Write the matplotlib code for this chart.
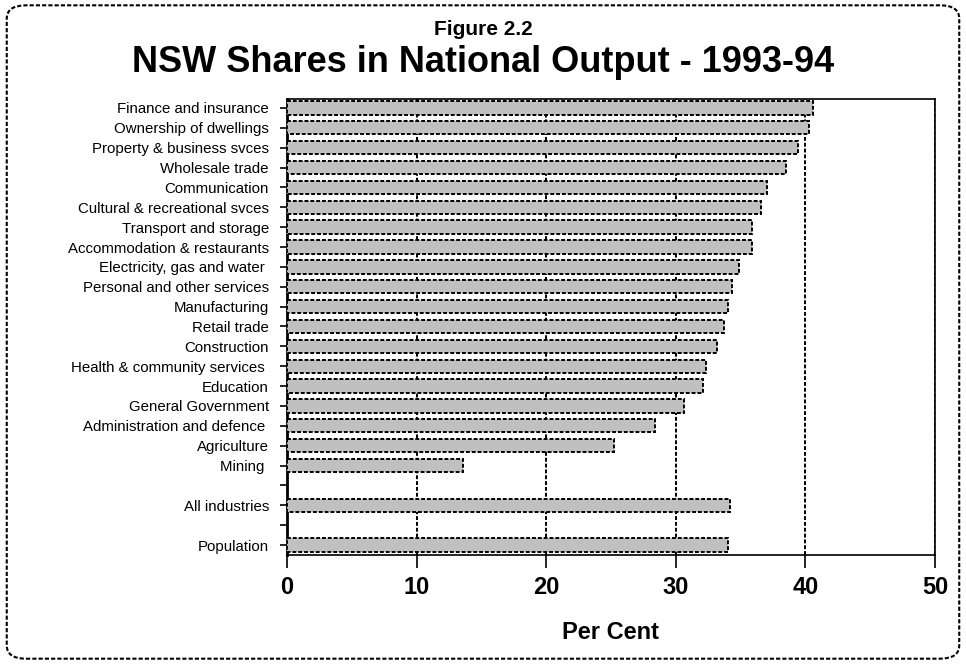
import matplotlib.pyplot as plt
from matplotlib.patches import FancyBboxPatch

plt.rcParams["font.family"] = ["Liberation Sans", "DejaVu Sans"]

industries = [
    "Finance and insurance", "Ownership of dwellings", "Property & business svces",
    "Wholesale trade", "Communication", "Cultural & recreational svces",
    "Transport and storage", "Accommodation & restaurants", "Electricity, gas and water ",
    "Personal and other services", "Manufacturing", "Retail trade", "Construction",
    "Health & community services ", "Education", "General Government",
    "Administration and defence ", "Agriculture", "Mining ",
]
industry_shares = [40.6, 40.3, 39.4, 38.5, 37.0, 36.6, 35.9, 35.9, 34.9,
                   34.3, 34.0, 33.7, 33.2, 32.3, 32.1, 30.6, 28.4, 25.2, 13.6]
all_industries = 34.2
population = 34.0

labels = industries + ["", "All industries", "", "Population"]
values = industry_shares + [None, all_industries, None, population]

dash = (0, (2, 1))

fig = plt.figure(figsize=(9.66, 6.64), dpi=100)
ax = fig.add_axes([0.2971, 0.1642, 0.6708, 0.6867])

pos = [i for i, v in enumerate(values) if v is not None]
vals = [v for v in values if v is not None]
ax.barh(pos, vals, height=0.67, color="#c0c0c0", edgecolor="black",
        linewidth=1.4, linestyle=dash, zorder=3)

ax.set_yticks(range(len(labels)))
ax.set_yticklabels(labels, fontsize=10.8)
ax.set_ylim(len(labels) - 0.5, -0.45)
ax.set_xlim(0, 50)
ax.set_xticks([0, 10, 20, 30, 40, 50])
ax.tick_params(axis="x", labelsize=17, length=9, width=1.2, pad=6)
for t in ax.get_xticklabels():
    t.set_fontweight("bold")
ax.tick_params(axis="y", length=5, width=1.2, pad=8)
for t in ax.xaxis.get_ticklines() + ax.yaxis.get_ticklines():
    t.set_linestyle(dash)

ax.grid(axis="x", color="black", linewidth=1.4, linestyle=dash, zorder=0)
ax.set_xlabel("Per Cent", fontsize=17, fontweight="bold", labelpad=16)

for side in ["top", "right", "bottom"]:
    ax.spines[side].set_linestyle((0, (1.5, 1)))
    ax.spines[side].set_linewidth(1.2)
ax.spines["left"].set_linewidth(2)

fig.text(0.5, 0.955, "Figure 2.2", ha="center", va="center",
         fontsize=15, fontweight="bold")
fig.text(0.5, 0.906, "NSW Shares in National Output - 1993-94", ha="center",
         va="center", fontsize=26, fontweight="bold")

border = FancyBboxPatch((0.007, 0.008), 0.986, 0.984,
                        boxstyle="round,pad=0,rounding_size=0.02",
                        transform=fig.transFigure, fill=False,
                        edgecolor="black", linewidth=1.5, linestyle=dash)
fig.patches.append(border)

fig.savefig("out.png", dpi=100)
